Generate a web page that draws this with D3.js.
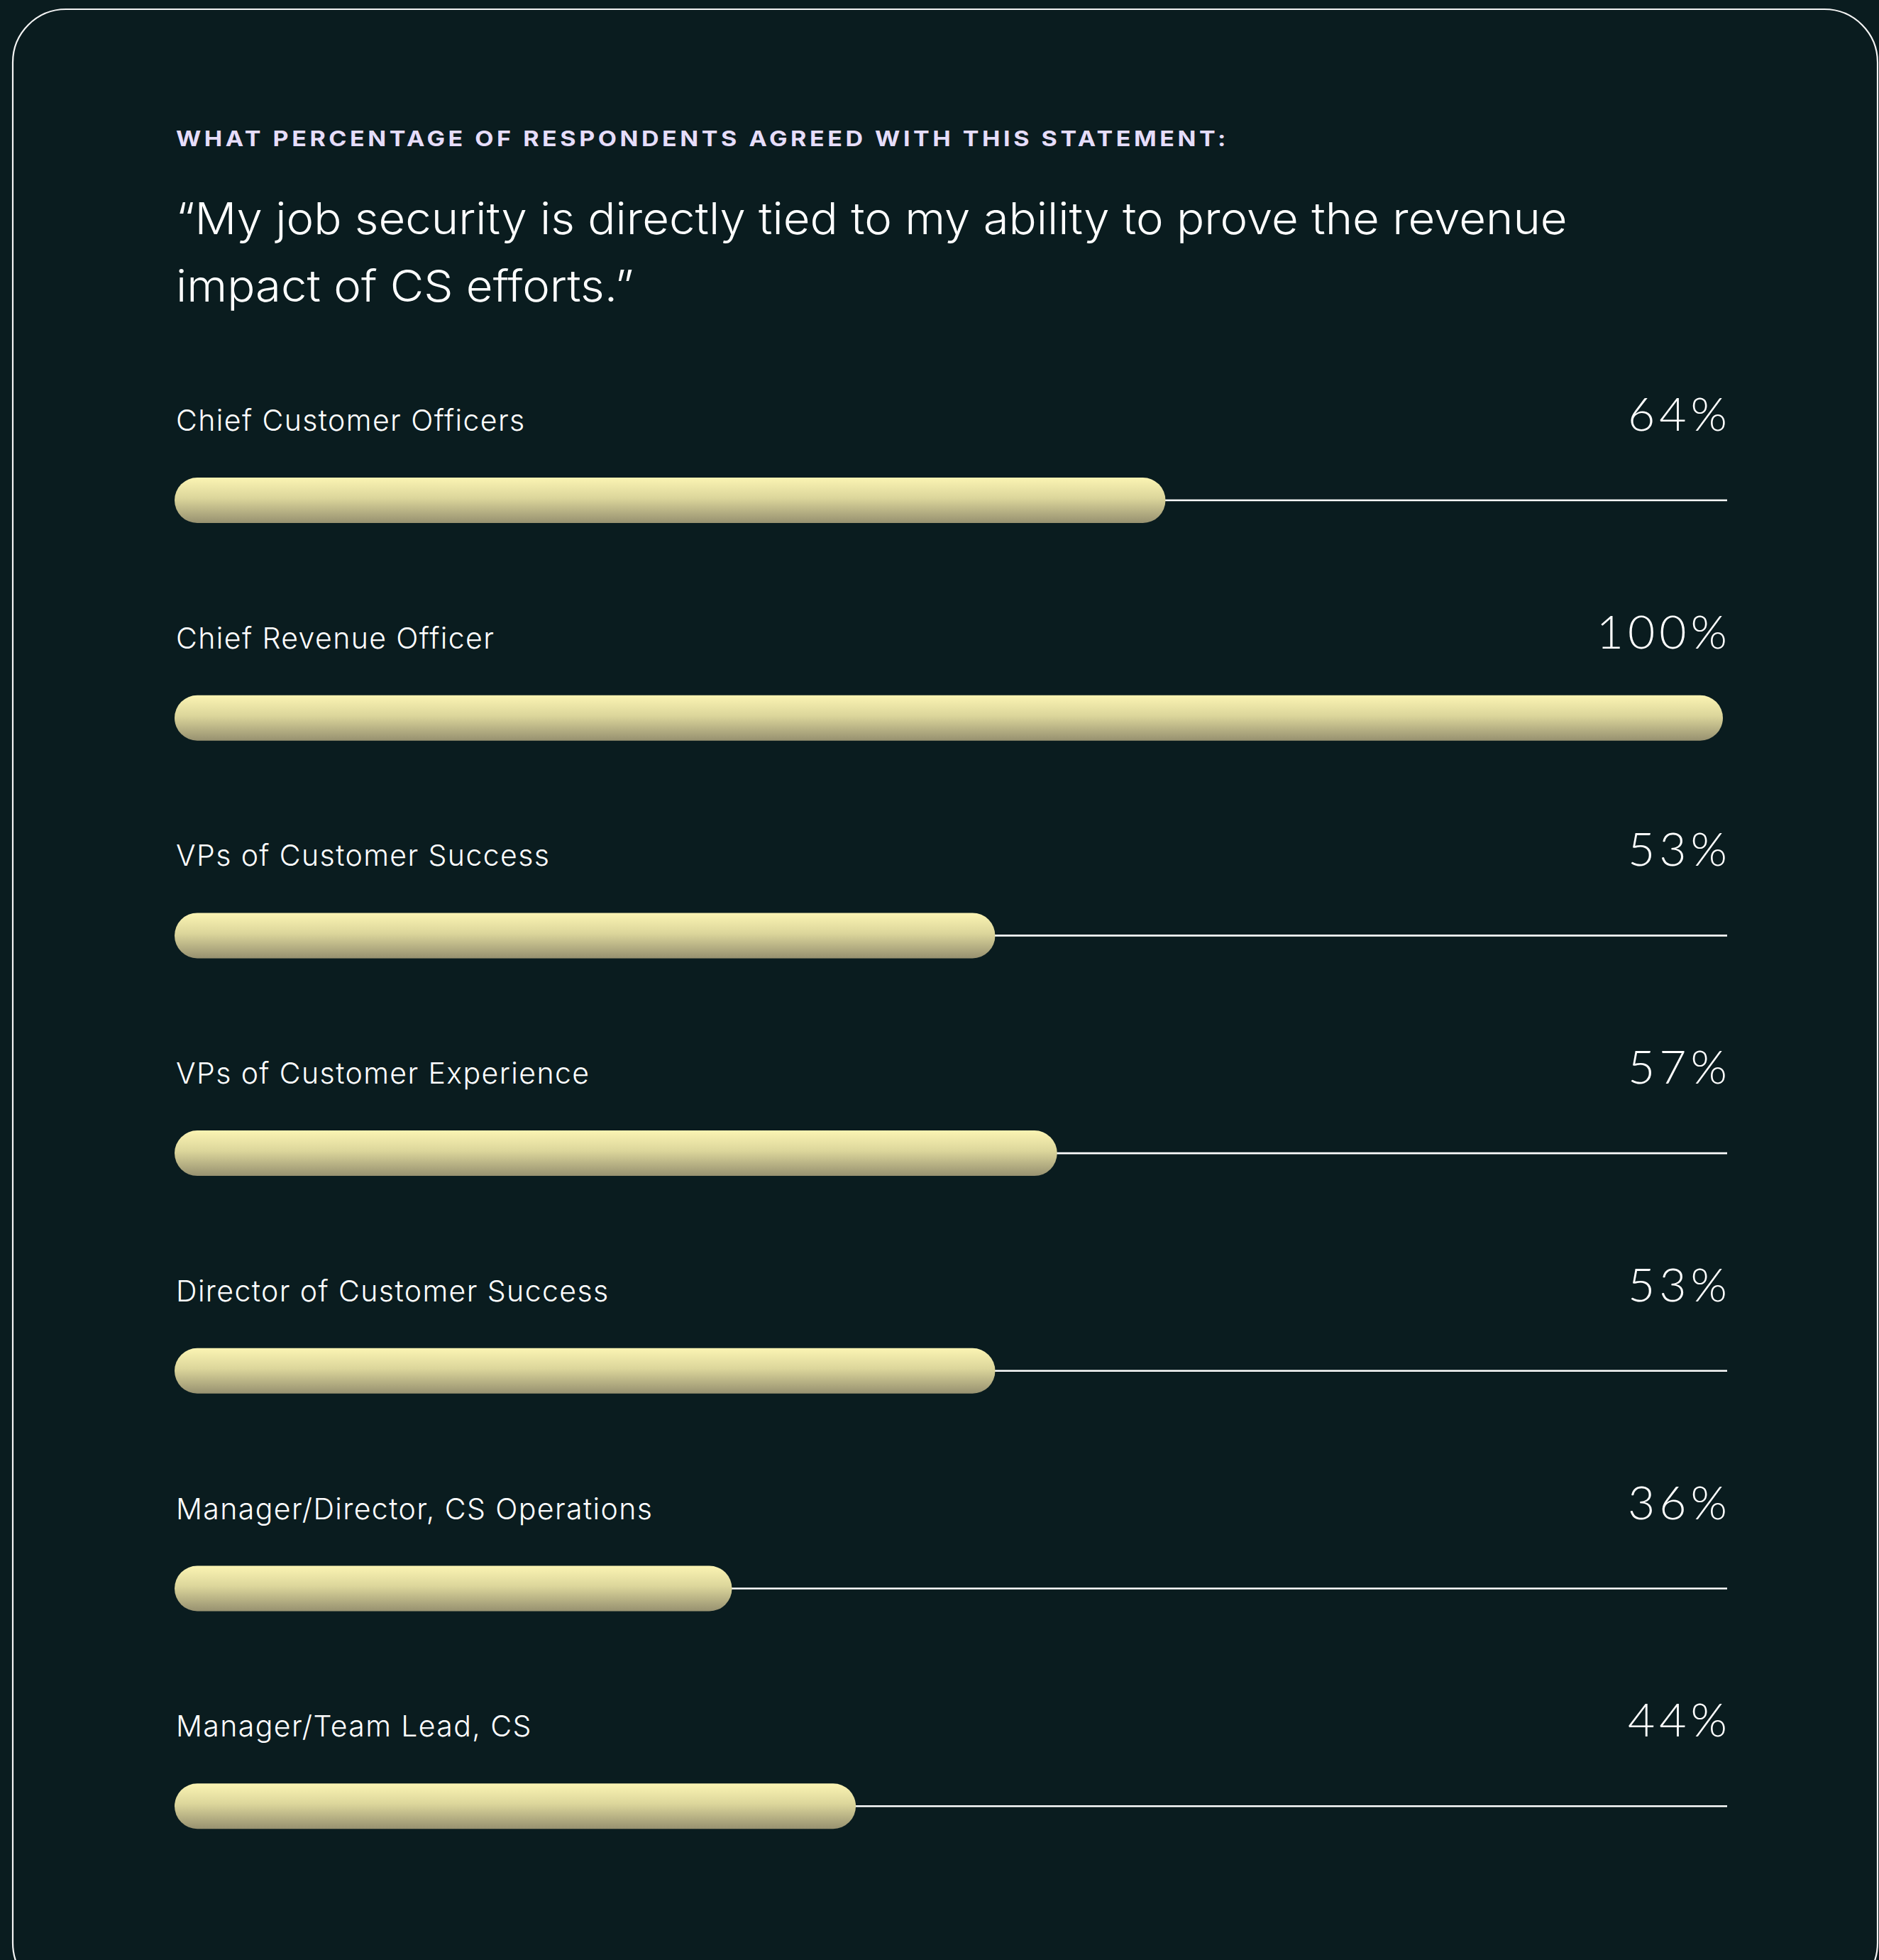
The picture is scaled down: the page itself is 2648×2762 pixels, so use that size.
<!DOCTYPE html>
<html>
<head>
<meta charset="utf-8">
<script src="https://cdn.jsdelivr.net/npm/d3@7"></script>
<style>
  html, body { margin: 0; padding: 0; background: #0a1c1f; }
  svg { display: block; }
</style>
</head>
<body>
<div id="chart"></div>
<script>
// Survey results: share of respondents agreeing with the statement, by role
const roles = [
  "Chief Customer Officers",
  "Chief Revenue Officer",
  "VPs of Customer Success",
  "VPs of Customer Experience",
  "Director of Customer Success",
  "Manager/Director, CS Operations",
  "Manager/Team Lead, CS"
];
const agreePct = [64, 100, 53, 57, 53, 36, 44];

const kicker = "WHAT PERCENTAGE OF RESPONDENTS AGREED WITH THIS STATEMENT:";
const quoteLines = [
  "\u201CMy job security is directly tied to my ability to prove the revenue",
  "impact of CS efforts.\u201D"
];

const W = 2648, H = 2762;
const left = 246, barEnd = 2428, trackEnd = 2434;
const barH = 64;

const svg = d3.select("#chart").append("svg")
  .attr("width", W).attr("height", H)
  .attr("viewBox", `0 0 ${W} ${H}`);

const defs = svg.append("defs");
const grad = defs.append("linearGradient")
  .attr("id", "barFill").attr("x1", 0).attr("y1", 0).attr("x2", 0).attr("y2", 1);
grad.append("stop").attr("offset", "0%").attr("stop-color", "#fbf4b3");
grad.append("stop").attr("offset", "45%").attr("stop-color", "#dcd69b");
grad.append("stop").attr("offset", "100%").attr("stop-color", "#979170");

// background and card outline
svg.append("rect").attr("width", W).attr("height", H).attr("fill", "#0a1c1f");
svg.append("rect")
  .attr("x", 18).attr("y", 13)
  .attr("width", 2628).attr("height", 2800)
  .attr("rx", 75).attr("ry", 75)
  .attr("fill", "#0a1c1f")
  .attr("stroke", "#f4f4f4").attr("stroke-width", 2.2);

// heading
svg.append("text")
  .attr("x", 248).attr("y", 206)
  .attr("fill", "#e6ddfa")
  .attr("font-family", "Inter, 'Noto Sans', sans-serif")
  .attr("font-weight", 700)
  .attr("font-size", 30)
  .attr("letter-spacing", "4px")
  .attr("textLength", 1484)
  .attr("lengthAdjust", "spacingAndGlyphs")
  .text(kicker);

const quote = svg.append("g").attr("class", "quote");
quote.selectAll("text").data(quoteLines).join("text")
  .attr("x", 248)
  .attr("y", (d, i) => 330 + i * 95)
  .attr("fill", "#ffffff")
  .attr("font-family", "Inter, 'Noto Sans', sans-serif")
  .attr("font-weight", 300)
  .attr("font-size", 62)
  .text(d => d);

// condense the quote uniformly so the first line spans its column
const q0 = quote.select("text").node().getComputedTextLength();
const sx = 1961 / q0;
quote.selectAll("text")
  .attr("transform", `translate(${248 * (1 - sx)},0) scale(${sx},1)`);

// scales
const x = d3.scaleLinear().domain([0, 100]).range([left, barEnd]);
const y = d3.scalePoint().domain(roles).range([705, 705 + 6 * 306.7]);

const rows = svg.append("g").selectAll("g")
  .data(roles.map((r, i) => ({ role: r, v: agreePct[i] })))
  .join("g")
  .attr("transform", d => `translate(0,${y(d.role)})`);

// track line to the right of each bar
rows.filter(d => x(d.v) < barEnd)
  .append("line")
  .attr("x1", d => x(d.v) - 4).attr("x2", trackEnd)
  .attr("y1", 0).attr("y2", 0)
  .attr("stroke", "#ffffff").attr("stroke-width", 2.6);

rows.append("rect")
  .attr("x", x(0))
  .attr("y", -barH / 2)
  .attr("width", d => x(d.v) - x(0))
  .attr("height", barH)
  .attr("rx", barH / 2).attr("ry", barH / 2)
  .attr("fill", "url(#barFill)");

rows.append("text")
  .attr("x", 248).attr("y", -98)
  .attr("fill", "#ffffff")
  .attr("font-family", "Inter, 'Noto Sans', sans-serif")
  .attr("font-weight", 300)
  .attr("font-size", 41)
  .attr("letter-spacing", "1.4px")
  .text(d => d.role);

// value labels, right-aligned to the track end (spacing trails the last glyph)
const valueSpacing = 6;
rows.append("text")
  .attr("x", trackEnd + valueSpacing).attr("y", -98)
  .attr("text-anchor", "end")
  .attr("fill", "#ffffff")
  .attr("font-family", "Lato, 'Open Sans', sans-serif")
  .attr("font-weight", 300)
  .attr("font-size", 66)
  .attr("letter-spacing", valueSpacing + "px")
  .text(d => d.v + "%");
</script>
</body>
</html>
